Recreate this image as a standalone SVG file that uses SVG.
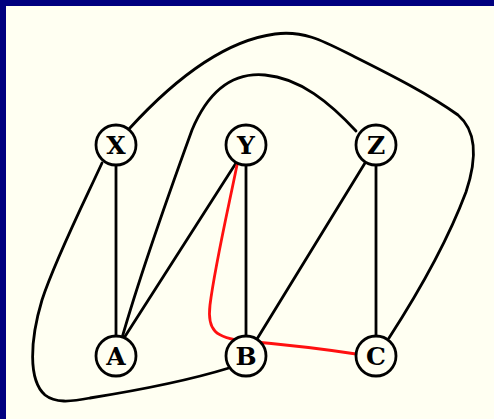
<svg xmlns="http://www.w3.org/2000/svg" width="494" height="419" viewBox="0 0 494 419">
<style>
.edge{fill:none;stroke:#000;stroke-width:2.8;stroke-linecap:round}
.red{stroke:#ff1010}
.node circle{fill:#fffff2;stroke:#000;stroke-width:2.8}
.node text{font-family:"DejaVu Serif","Liberation Serif",serif;font-weight:bold;font-size:25px;text-anchor:middle;fill:#000}
</style>
<rect x="0" y="0" width="494" height="419" fill="#fffff2"/>
<rect x="0" y="0" width="494" height="6" fill="#00007f"/>
<rect x="0" y="0" width="6" height="419" fill="#00007f"/>
<g id="connectors">
<path class="edge" d="M116,165 L116,336"/>
<path class="edge" d="M246,165 L246,336"/>
<path class="edge" d="M376,165 L376,335"/>
<path class="edge" d="M236,163 L124,338"/>
<path class="edge" d="M365,163 L257,339"/>
<path class="edge" d="M356,131 C330,103 300,78 265,75 C232,72 208,92 192,130 C172,185 142,268 122,338"/>
<path class="edge" d="M129,129 C160,95 215,42 275,34 C305,30 325,42 355,57 C395,77 430,95 458,115 C478,132 476,162 466,192 C448,240 420,290 389,338"/>
<path class="edge" d="M102,163 C85,200 55,260 42,300 C30,340 28,380 45,395 C55,403 70,402 90,398 C140,390 190,380 229,368"/>
<path class="edge red" d="M237,165 C229,205 215,265 210,305 C207,330 215,338 245,341 C290,345 330,350 356,354"/>
</g>
<g id="X" class="node"><circle cx="116" cy="145" r="20"/><text x="116" y="154">X</text></g>
<g id="Y" class="node"><circle cx="246" cy="145" r="20"/><text x="246" y="154">Y</text></g>
<g id="Z" class="node"><circle cx="376" cy="145" r="20"/><text x="376" y="154">Z</text></g>
<g id="A" class="node"><circle cx="116" cy="356" r="20"/><text x="116" y="365">A</text></g>
<g id="B" class="node"><circle cx="246" cy="356" r="20"/><text x="246" y="365">B</text></g>
<g id="C" class="node"><circle cx="376" cy="356" r="20"/><text x="376" y="365">C</text></g>
</svg>
